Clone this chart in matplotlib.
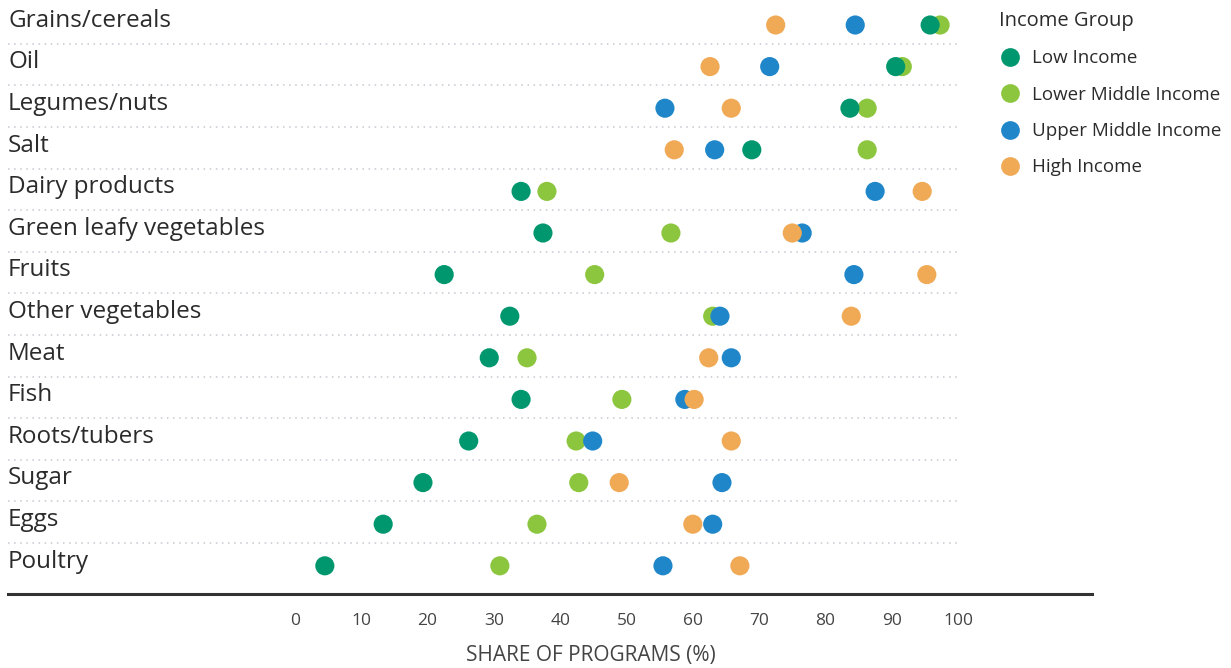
import matplotlib
matplotlib.use("Agg")
import matplotlib.pyplot as plt
from matplotlib.lines import Line2D

# ------------------------------------------------------------------ data --
foods = ["Grains/cereals", "Oil", "Legumes/nuts", "Salt", "Dairy products",
         "Green leafy vegetables", "Fruits", "Other vegetables", "Meat", "Fish",
         "Roots/tubers", "Sugar", "Eggs", "Poultry"]
low_income = [95.8, 90.6, 83.7, 68.9, 34.1, 37.4, 22.5, 32.4, 29.3, 34.1,
              26.2, 19.3, 13.3, 4.5]
lower_middle = [97.3, 91.6, 86.3, 86.3, 38.0, 56.7, 45.2, 63.0, 35.0, 49.3,
                42.4, 42.8, 36.5, 30.9]
upper_middle = [84.5, 71.6, 55.8, 63.3, 87.5, 76.5, 84.3, 64.1, 65.8, 58.8,
                44.9, 64.4, 63.0, 55.5]
high_income = [72.5, 62.6, 65.8, 57.2, 94.6, 75.0, 95.3, 83.9, 62.4, 60.2,
               65.8, 48.9, 60.0, 67.1]
xticks = [0, 10, 20, 30, 40, 50, 60, 70, 80, 90, 100]

GREEN, LIGHT, BLUE, ORANGE = "#00976f", "#8cc63f", "#1f87c9", "#f0a955"
INK, MUTED, GRID = "#2b2b2b", "#444444", "#c4c8cf"

plt.rcParams["font.family"] = ["Open Sans", "DejaVu Sans"]

fig = plt.figure(figsize=(12.31, 6.68), dpi=100)
# axes spans pixel x 8..1092, y 0..594 ; data 0 -> px 295, 100 -> px 958
ax = fig.add_axes([8 / 1231, 1 - 594 / 668, (1092 - 8) / 1231, 594 / 668])
px = 6.63
ax.set_xlim((8 - 295) / px, (1092 - 295) / px)
row = 41.6
ax.set_ylim((594 - 25) / row, -25 / row)

y = list(range(len(foods)))
x_left = (8 - 295) / px

# dotted separators between rows
for i in range(len(foods) - 1):
    ax.plot([x_left, 100.3], [i + 0.45, i + 0.45], ls=(0, (1, 3)), lw=1.1,
            color=GRID, zorder=1)

# draw order gives the overlaps seen in the original
series = [("Lower Middle Income", lower_middle, LIGHT),
          ("Low Income", low_income, GREEN),
          ("Upper Middle Income", upper_middle, BLUE),
          ("High Income", high_income, ORANGE)]
for k, (name, vals, col) in enumerate(series):
    ax.scatter(vals, y, s=190, color=col, edgecolors="none", zorder=3 + k)

for i, f in enumerate(foods):
    ax.text(x_left, i - 0.1, f, ha="left", va="center", fontsize=17.5,
            color=INK)

for s in ("top", "right", "left"):
    ax.spines[s].set_visible(False)
ax.spines["bottom"].set_color("#333333")
ax.spines["bottom"].set_linewidth(2.2)
ax.set_yticks([])
ax.set_xticks(xticks, [str(t) for t in xticks], fontsize=12.5, color=MUTED)
ax.tick_params(axis="x", length=0, pad=14)
ax.set_xlabel("SHARE OF PROGRAMS (%)", fontsize=15, color=MUTED)
ax.xaxis.set_label_coords((44.6 - x_left) / (ax.get_xlim()[1] - x_left), -0.086)

handles = [Line2D([], [], ls="", marker="o", ms=13.5, color=c, mec="none")
           for c in (GREEN, LIGHT, BLUE, ORANGE)]
leg = fig.legend(handles, ["Low Income", "Lower Middle Income",
                           "Upper Middle Income", "High Income"],
                 title="Income Group", loc="upper left",
                 bbox_to_anchor=(999 / 1231, 1 - 11 / 668), frameon=False,
                 fontsize=13.5, title_fontsize=14.5, labelspacing=0.98,
                 handletextpad=0.55, handlelength=1.2, borderaxespad=0,
                 borderpad=0)
leg._legend_box.align = "left"
for t in leg.get_texts():
    t.set_color(INK)
leg.get_title().set_color(INK)

fig.savefig("out.png", dpi=100)
